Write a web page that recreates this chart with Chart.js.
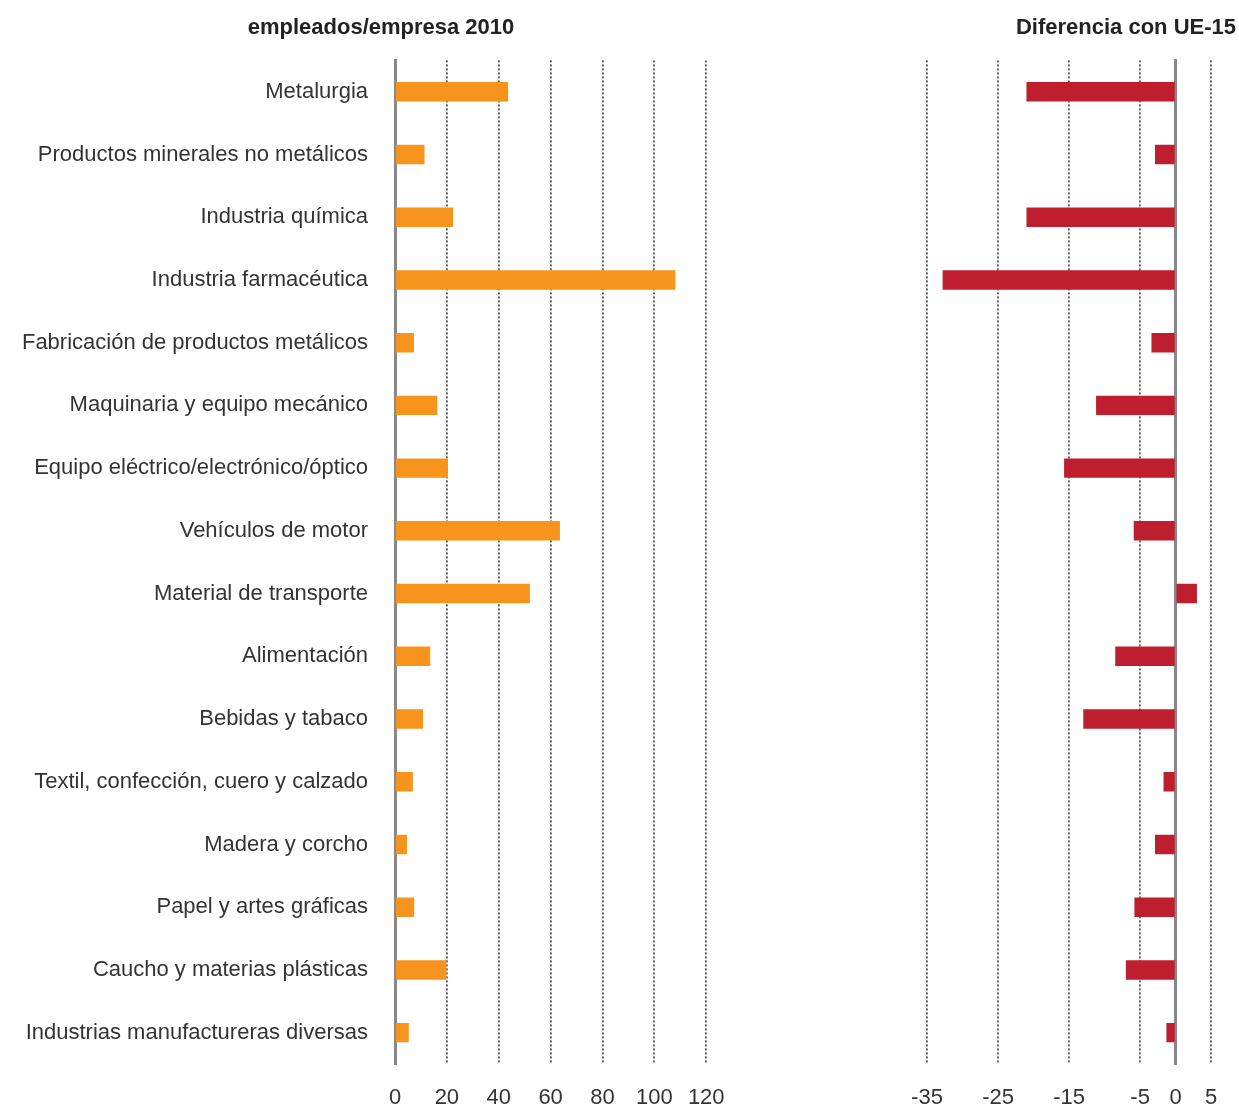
<!DOCTYPE html>
<html>
<head>
<meta charset="utf-8">
<script src="https://cdn.jsdelivr.net/npm/chart.js@4"></script>
<style>
  body { margin: 0; background: #fff; }
  .wrap { display: flex; width: 1239px; height: 1111px; }
</style>
</head>
<body>
<div class="wrap">
  <canvas id="leftChart" width="762" height="1111"></canvas>
  <canvas id="rightChart" width="477" height="1111"></canvas>
</div>
<script>
const categories = [
  "Metalurgia",
  "Productos minerales no metálicos",
  "Industria química",
  "Industria farmacéutica",
  "Fabricación de productos metálicos",
  "Maquinaria y equipo mecánico",
  "Equipo eléctrico/electrónico/óptico",
  "Vehículos de motor",
  "Material de transporte",
  "Alimentación",
  "Bebidas y tabaco",
  "Textil, confección, cuero y calzado",
  "Madera y corcho",
  "Papel y artes gráficas",
  "Caucho y materias plásticas",
  "Industrias manufactureras diversas"
];
const empleadosEmpresa = [43.6, 11.4, 22.4, 108.1, 7.3, 16.3, 20.4, 63.6, 52.0, 13.6, 10.8, 6.9, 4.6, 7.4, 19.8, 5.3];
const diferenciaUE15 = [-21.0, -2.9, -21.0, -32.8, -3.4, -11.2, -15.7, -5.9, 3.0, -8.5, -13.0, -1.7, -2.9, -5.8, -7.0, -1.3];
const ticksEmpleados = [0, 20, 40, 60, 80, 100, 120];
const ticksDiferencia = [-35, -25, -15, -5, 0, 5];

Chart.defaults.font.family = "'Liberation Sans', Arial, sans-serif";
Chart.defaults.font.size = 22;
Chart.defaults.color = "#333";

const naranja = "#F7941D";
const rojo = "#BE1E2D";
const gridColor = ctx => (ctx.tick && ctx.tick.value === 0 ? "rgba(0,0,0,0)" : "#555");

// izquierda: empleados por empresa
new Chart(document.getElementById("leftChart"), {
  type: "bar",
  data: {
    labels: categories,
    datasets: [{
      data: empleadosEmpresa,
      backgroundColor: naranja,
      borderWidth: 0,
      barPercentage: 1,
      categoryPercentage: 0.31
    }]
  },
  options: {
    indexAxis: "y",
    responsive: false,
    animation: false,
    layout: { padding: 0 },
    plugins: {
      legend: { display: false },
      tooltip: { enabled: false },
      title: {
        display: true,
        text: "empleados/empresa 2010",
        color: "#222",
        font: { size: 22, weight: "bold" },
        padding: { top: 15, bottom: 19 }
      }
    },
    scales: {
      x: {
        min: 0,
        max: 141.5,
        afterBuildTicks: s => { s.ticks = ticksEmpleados.map(v => ({ value: v })); },
        afterFit: s => { s.height = 47; },
        grid: { color: gridColor, lineWidth: 1.8, drawTicks: false },
        border: { display: false, dash: [2, 2] },
        ticks: { padding: 21, color: "#333", maxRotation: 0 }
      },
      y: {
        grid: { display: false, drawTicks: false },
        border: { display: true, color: "#888", width: 3 },
        ticks: { padding: 27, color: "#333", autoSkip: false },
        afterFit: s => { s.width = 395; }
      }
    }
  }
});

// derecha: diferencia con UE-15
new Chart(document.getElementById("rightChart"), {
  type: "bar",
  data: {
    labels: categories,
    datasets: [{
      data: diferenciaUE15,
      backgroundColor: rojo,
      borderWidth: 0,
      barPercentage: 1,
      categoryPercentage: 0.31
    }]
  },
  options: {
    indexAxis: "y",
    responsive: false,
    animation: false,
    layout: { padding: { left: 165, right: 3, top: 0, bottom: 0 } },
    plugins: {
      legend: { display: false },
      tooltip: { enabled: false },
      title: {
        display: true,
        text: "Diferencia con UE-15",
        align: "end",
        color: "#222",
        font: { size: 22, weight: "bold" },
        padding: { top: 15, bottom: 19 }
      }
    },
    scales: {
      x: {
        min: -35,
        max: 8.5,
        afterBuildTicks: s => { s.ticks = ticksDiferencia.map(v => ({ value: v })); },
        afterFit: s => { s.height = 47; },
        grid: { color: gridColor, lineWidth: 1.8, drawTicks: false },
        border: { display: false, dash: [2, 2] },
        ticks: { padding: 21, color: "#333", maxRotation: 0 }
      },
      y: {
        position: { x: 0 },
        grid: { display: false, drawTicks: false },
        border: { display: true, color: "#888", width: 3 },
        ticks: { display: false }
      }
    }
  }
});
</script>
</body>
</html>
